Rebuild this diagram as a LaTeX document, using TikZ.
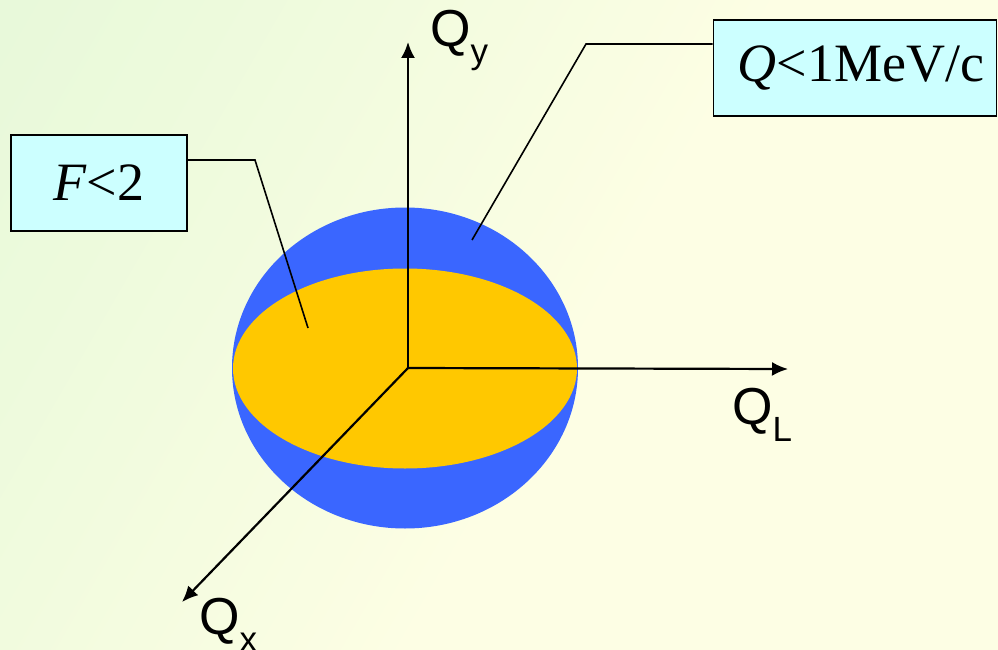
\documentclass[tikz,border=0pt]{standalone}
\usepackage{fontspec}
\setmainfont{Liberation Serif}
\setsansfont{Liberation Sans}
\usetikzlibrary{arrows.meta}
\definecolor{bggreen}{HTML}{E0F7D6}
\definecolor{bgyellow}{HTML}{FDFEE4}
\definecolor{sphereblue}{HTML}{3A66FF}
\definecolor{diskyellow}{HTML}{FFC800}
\definecolor{boxcyan}{HTML}{CCFFFF}
\pgfdeclarehorizontalshading{bgshade}{100bp}{color(0bp)=(bggreen); color(30bp)=(bgyellow!50!bggreen); color(55bp)=(bgyellow); color(100bp)=(bgyellow)}
\newcommand{\axsub}[1]{\raisebox{-17pt}{\fontsize{35}{37}\selectfont #1}}
\tikzset{
  labelbox/.style={draw=black, line width=1.6pt, fill=boxcyan, inner sep=0pt, font=\fontsize{54}{60}\selectfont},
  leader/.style={draw=black, line width=1.6pt},
  axis/.style={draw=black, line width=2.2pt, -{Latex[length=16pt,width=14pt]}},
  axislabel/.style={font=\sffamily\fontsize{52}{58}\selectfont, inner sep=0pt, anchor=base west}
}
\begin{document}
\begin{tikzpicture}[x=1pt,y=-1pt]
\useasboundingbox (0,0) rectangle (998,650);
\shade[shading=bgshade, shading angle=-30] (0,0) rectangle (998,650);
% sphere and disk
\fill[sphereblue] (405,368) ellipse [x radius=173, y radius=160.5];
\fill[diskyellow] (405,368.5) ellipse [x radius=172, y radius=100];
% axes
\coordinate (O) at (408,368);
\coordinate (Ytip) at (408,42);
\coordinate (Ltip) at (788,369);
\coordinate (Xtip) at (182,602);
\draw[axis] (O) -- (Ytip);
\draw[axis] (O) -- (Ltip);
\draw[axis] (O) -- (Xtip);
\node[axislabel] (qy) at (430,47) {Q\axsub{y}};
\node[axislabel] (ql) at (732,424) {Q\axsub{L}};
\node[axislabel] (qx) at (199,634) {Q\axsub{x}};
% label boxes
\node[labelbox, minimum width=176, minimum height=96] (fbox) at (99,183) {\textit{F}<2};
\node[labelbox, minimum width=283, minimum height=96] (qbox) at (855,68) {\hspace{12pt}\textit{Q}<1MeV/c};
% leaders
\coordinate (f1) at (255,160);
\coordinate (f2) at (308,328);
\coordinate (q1) at (586,44);
\coordinate (q2) at (472,240);
\draw[leader] (fbox.east |- f1) -- (f1) -- (f2);
\draw[leader] (qbox.west |- q1) -- (q1) -- (q2);
\end{tikzpicture}
\end{document}
